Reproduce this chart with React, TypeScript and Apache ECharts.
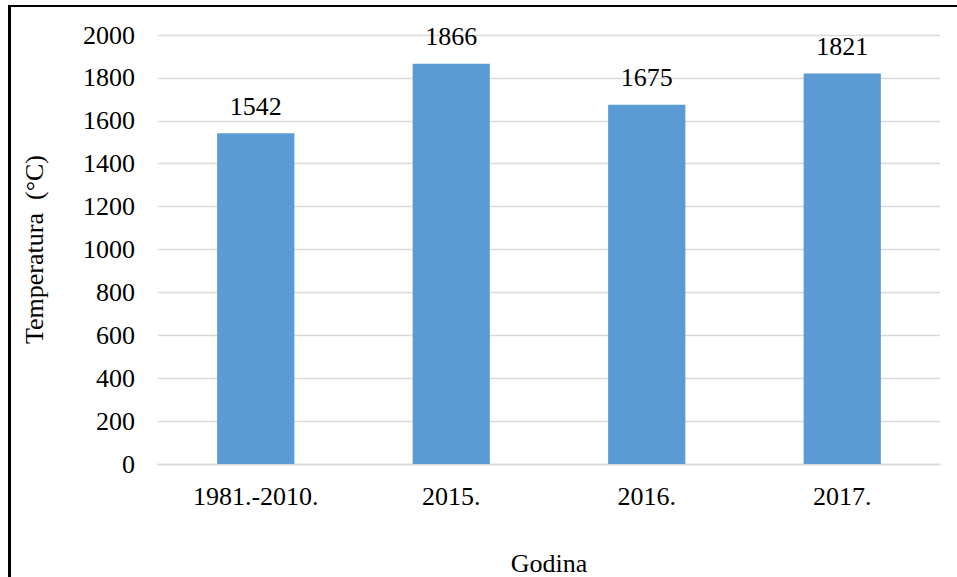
import React, { useEffect, useRef } from "react";
import * as echarts from "echarts";

const categories = ["1981.-2010.", "2015.", "2016.", "2017."];
const values = [1542, 1866, 1675, 1821];
const yTicks = { min: 0, max: 2000, interval: 200 };
const yTitle = "Temperatura  (°C)";
const xTitle = "Godina";

const FONT = "Liberation Serif";
const FS = 26;

export default function App() {
  const ref = useRef<HTMLDivElement>(null);
  useEffect(() => {
    if (!ref.current) return;
    const chart = echarts.init(ref.current, undefined, { renderer: "svg" });
    chart.setOption({
      animation: false,
      backgroundColor: "#ffffff",
      textStyle: { fontFamily: FONT },
      grid: {
        left: 158,
        right: 17,
        top: 35,
        bottom: 113,
        containLabel: false,
        outerBoundsMode: "none",
      },
      xAxis: {
        type: "category",
        data: categories,
        name: xTitle,
        nameLocation: "middle",
        nameGap: 86,
        nameTextStyle: { fontFamily: FONT, fontSize: FS, color: "#000" },
        axisLine: { show: true, lineStyle: { color: "#d9d9d9", width: 1.3 } },
        axisTick: { show: false },
        axisLabel: { fontFamily: FONT, fontSize: FS, color: "#000", margin: 19 },
      },
      yAxis: {
        type: "value",
        min: yTicks.min,
        max: yTicks.max,
        interval: yTicks.interval,
        name: yTitle,
        nameLocation: "middle",
        nameGap: 111,
        nameRotate: 90,
        nameTextStyle: { fontFamily: FONT, fontSize: FS, color: "#000" },
        axisLine: { show: false },
        axisTick: { show: false },
        axisLabel: {
          fontFamily: FONT,
          fontSize: FS,
          color: "#000",
          margin: 23,
          formatter: (v: number) => String(v),
        },
        splitLine: { show: true, lineStyle: { color: "#d9d9d9", width: 1.3 } },
      },
      series: [
        {
          type: "bar",
          data: values,
          barWidth: "39.5%",
          itemStyle: { color: "#5B9BD5" },
          label: {
            show: true,
            position: "top",
            distance: 14,
            fontFamily: FONT,
            fontSize: FS,
            color: "#000",
          },
        },
      ],
      graphic: [
        {
          type: "line",
          shape: { x1: 9.5, y1: 5, x2: 9.5, y2: 580 },
          style: { stroke: "#000", lineWidth: 3 },
          z: 100,
        },
        {
          type: "line",
          shape: { x1: 8, y1: 6, x2: 960, y2: 6 },
          style: { stroke: "#000", lineWidth: 2 },
          z: 100,
        },
      ],
    });
    return () => chart.dispose();
  }, []);
  return (
    <div
      ref={ref}
      style={{ position: "absolute", left: 0, top: 0, width: 957, height: 577 }}
    />
  );
}
